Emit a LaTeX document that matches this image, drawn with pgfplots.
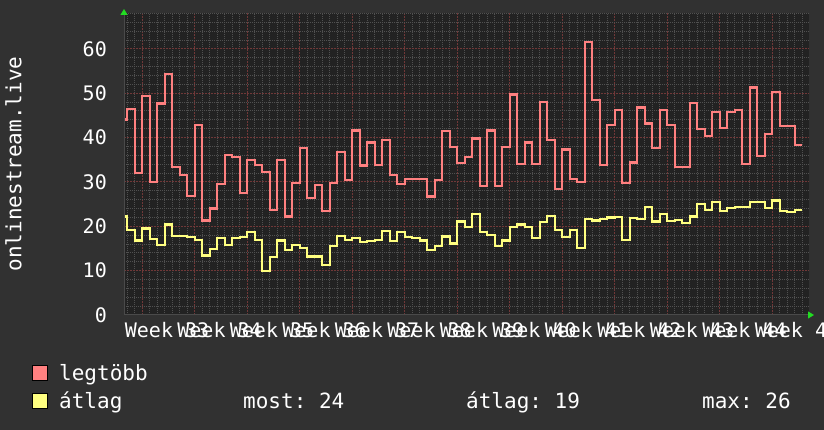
\documentclass[border=0pt]{standalone}
\usepackage{fontspec}
\setmainfont{DejaVu Sans Mono}
\usepackage{pgfplots}
\pgfplotsset{compat=1.18}
\usepackage{pgfplotstable}
\usetikzlibrary{arrows.meta}
\definecolor{canvas}{HTML}{313131}
\definecolor{plotbg}{HTML}{222222}
\definecolor{mingrid}{HTML}{505050}
\definecolor{majgrid}{HTML}{703838}
\definecolor{axisdark}{HTML}{4A4A4A}
\definecolor{redline}{HTML}{FF8080}
\definecolor{yelline}{HTML}{FFFF80}
\definecolor{arrowgreen}{HTML}{22DD22}
\frenchspacing

\pgfplotstableread{
x red yel
-2.31 44.1 22.2
-2 46.5 19.2
-1 32.1 16.8
0 49.3 19.5
1 29.9 17.1
2 47.7 15.8
3 54.3 20.4
4 33.3 17.9
5 31.5 17.9
6 26.9 17.6
7 42.8 17.0
8 21.3 13.4
9 24.0 14.9
10 29.5 17.4
11 36.0 15.8
12 35.7 17.4
13 27.5 17.6
14 34.9 18.7
15 33.9 17.0
16 32.2 10.0
17 23.7 13.1
18 34.9 16.8
19 22.2 14.7
20 29.8 15.8
21 37.6 15.1
22 26.4 13.2
23 29.4 13.2
24 23.4 11.3
25 29.8 15.5
26 36.7 17.9
27 30.5 17.0
28 41.6 17.4
29 33.7 16.4
30 38.9 16.6
31 33.9 17.0
32 39.4 18.9
33 31.5 16.6
34 29.5 18.8
35 30.7 17.6
36 30.7 17.4
37 30.7 16.8
38 26.7 14.6
39 30.5 15.5
40 41.4 17.7
41 37.9 16.1
42 34.3 21.1
43 35.7 19.8
44 39.8 22.8
45 29.0 18.8
46 41.6 18.1
47 29.0 15.5
48 37.8 16.8
49 49.7 19.8
50 34.1 20.4
51 38.9 19.8
52 34.0 17.4
53 48.0 20.9
54 39.5 22.4
55 28.4 19.1
56 37.3 17.6
57 30.7 19.2
58 30.0 15.1
59 61.5 21.6
60 48.4 21.3
61 33.9 21.7
62 42.8 22.0
63 46.2 22.1
64 29.7 17.0
65 34.4 21.9
66 46.8 21.6
67 43.2 24.4
68 37.6 21.1
69 46.2 22.7
70 42.9 21.2
71 33.3 21.5
72 33.3 20.7
73 47.8 22.2
74 42.0 25.1
75 40.3 23.6
76 45.8 25.4
77 42.1 23.4
78 45.8 24.1
79 46.3 24.4
80 34.0 24.4
81 51.3 25.5
82 35.8 25.4
83 40.9 24.1
84 50.2 25.8
85 42.6 23.5
86 42.6 23.2
87 38.3 23.7
88 38.3 23.7
}\datatable

\begin{document}
\begin{tikzpicture}[font=\fontsize{20}{24}\selectfont]
\fill[canvas] (0pt,0pt) rectangle (824pt,430pt);
\begin{axis}[
  at={(124pt,115pt)}, anchor=south west,
  scale only axis, width=685pt, height=302pt,
  xmin=-2.44, xmax=88.9, ymin=0, ymax=68.1,
  axis background/.style={fill=plotbg},
  axis x line*=bottom, axis y line*=left,
  axis line style={draw=axisdark, line width=1pt},
  x axis line style={-{Triangle[color=arrowgreen,length=6pt,width=7pt]}, shorten >=-5pt},
  y axis line style={-{Triangle[color=arrowgreen,length=6pt,width=7pt]}, shorten >=-4pt},
  xtick={0,7,...,84}, xticklabels={},
  minor xtick={-2,-1,1,2,3,4,5,6,8,9,10,11,12,13,15,16,17,18,19,20,22,23,24,25,26,27,29,30,31,32,33,34,36,37,38,39,40,41,43,44,45,46,47,48,50,51,52,53,54,55,57,58,59,60,61,62,64,65,66,67,68,69,71,72,73,74,75,76,78,79,80,81,82,83,85,86,87,88},
  ytick={0,10,...,60},
  minor ytick={2,4,6,8,12,14,16,18,22,24,26,28,32,34,36,38,42,44,46,48,52,54,56,58,62,64,66,68},
  extra x ticks={3.3,10.3,17.3,24.3,31.3,38.3,45.3,52.3,59.3,66.3,73.3,80.3,87.3},
  extra x tick labels={Week 33,Week 34,Week 35,Week 36,Week 37,Week 38,Week 39,Week 40,Week 41,Week 42,Week 43,Week 44,Week 45},
  extra x tick style={grid=none},
  grid=both,
  major grid style={draw=majgrid, dash pattern=on 2pt off 1pt, line width=1pt},
  minor grid style={draw=mingrid, dash pattern=on 1pt off 1pt, line width=1pt},
  tick style={draw=none},
  major tick length=0pt, minor tick length=0pt,
  /pgf/number format/assume math mode=true,
  tick label style={font=\fontsize{20}{24}\selectfont, text=white},
  yticklabel style={anchor=east, inner sep=0pt, xshift=-17pt},
  xticklabel style={anchor=north, inner sep=0pt, yshift=-7pt},
  ylabel={onlinestream.live},
  ylabel style={at={(axis description cs:-0.1613,0.5)}, anchor=center, inner sep=0pt, text=white, font=\fontsize{21}{24}\selectfont},
]
\addplot[const plot mark left, draw=redline, line width=2.2pt, line join=miter] table[x=x, y=red] {\datatable};
\addplot[const plot mark left, draw=yelline, line width=2.2pt, line join=miter] table[x=x, y=yel] {\datatable};
\end{axis}
\filldraw[fill=redline, draw=black, line width=1pt] (32.5pt,49.5pt) rectangle (47.5pt,64.5pt);
\filldraw[fill=yelline, draw=black, line width=1pt] (32.5pt,21.5pt) rectangle (47.5pt,36.5pt);
\begin{scope}[font=\fontsize{21}{24}\selectfont]
\node[anchor=base west, inner sep=0pt, text=white] at (59pt,49pt) {legtöbb};
\node[anchor=base west, inner sep=0pt, text=white] at (59pt,21pt) {átlag};
\node[anchor=base west, inner sep=0pt, text=white] at (243pt,21pt) {most: 24};
\node[anchor=base west, inner sep=0pt, text=white] at (466pt,21pt) {átlag: 19};
\node[anchor=base west, inner sep=0pt, text=white] at (702pt,21pt) {max: 26};
\end{scope}
\pgfresetboundingbox
\useasboundingbox (0pt,0pt) rectangle (824pt,430pt);
\end{tikzpicture}
\end{document}
